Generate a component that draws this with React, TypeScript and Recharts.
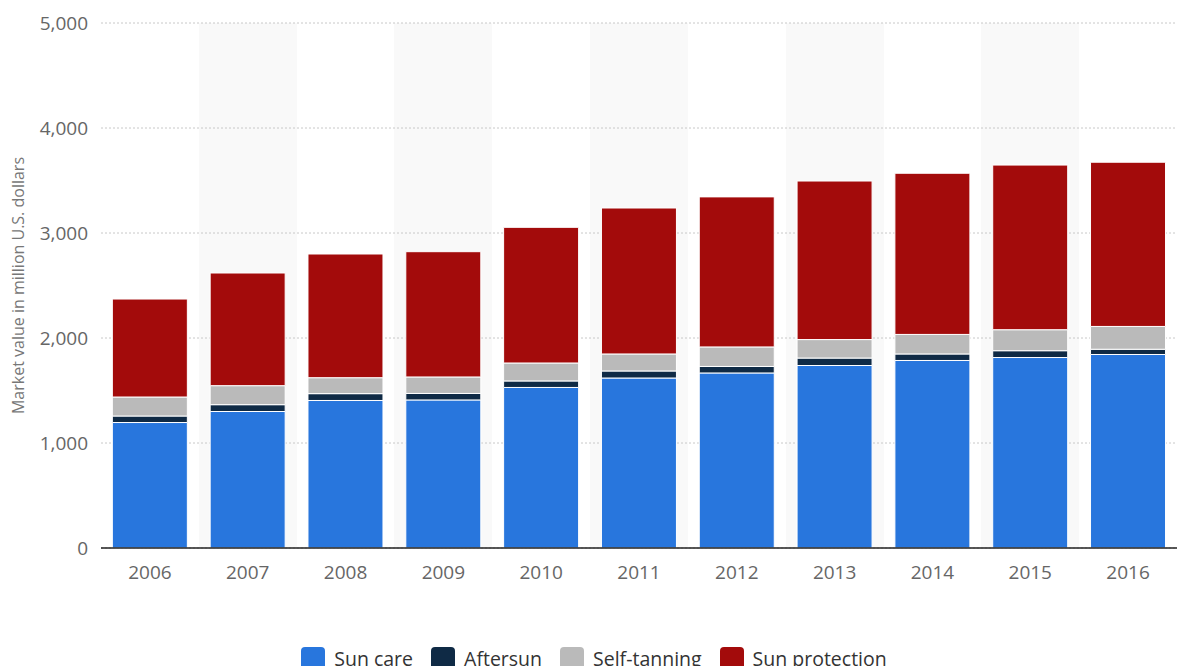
import {
  BarChart,
  Bar,
  XAxis,
  YAxis,
  CartesianGrid,
  Legend,
} from "recharts";

const years = [
  "2006", "2007", "2008", "2009", "2010", "2011",
  "2012", "2013", "2014", "2015", "2016",
];
const sunCare = [1195, 1300, 1405, 1410, 1529, 1619, 1667, 1738, 1786, 1814, 1843];
const aftersun = [62, 65, 65, 62, 62, 67, 62, 71, 62, 65, 50];
const selfTanning = [181, 181, 152, 157, 171, 162, 186, 176, 186, 200, 217];
const sunProtection = [933, 1073, 1178, 1193, 1292, 1390, 1429, 1510, 1535, 1568, 1564];
const yTicks = [0, 1000, 2000, 3000, 4000, 5000];

const series = [
  { key: "sunCare", name: "Sun care", color: "#2876dd", values: sunCare },
  { key: "aftersun", name: "Aftersun", color: "#0f2a45", values: aftersun },
  { key: "selfTanning", name: "Self-tanning", color: "#bababa", values: selfTanning },
  { key: "sunProtection", name: "Sun protection", color: "#a30b0b", values: sunProtection },
];

const data = years.map((year, i) => {
  const row: Record<string, string | number> = { year };
  series.forEach((s) => {
    row[s.key] = s.values[i];
  });
  return row;
});

const font = "'Open Sans', sans-serif";
const tickStyle = { fill: "#666", fontSize: 19, fontFamily: font };

const fmt = (v: number) => v.toLocaleString("en-US");

const renderLegend = () => (
  <div
    style={{
      display: "flex",
      justifyContent: "center",
      fontFamily: font,
      fontSize: 19.5,
      color: "#333",
      paddingLeft: 29,
    }}
  >
    {series.map((s) => (
      <div
        key={s.key}
        style={{ display: "flex", alignItems: "center", marginRight: 18 }}
      >
        <span
          style={{
            width: 24,
            height: 23,
            borderRadius: 4,
            background: s.color,
            marginRight: 9,
            display: "inline-block",
          }}
        />
        <span>{s.name}</span>
      </div>
    ))}
  </div>
);

export default function App() {
  return (
    <div style={{ position: "absolute", left: 0, top: 0 }}>
      <BarChart
        width={1177}
        height={666}
        data={data}
        margin={{ top: 23, right: 0, bottom: 88, left: 0 }}
        barCategoryGap="11.6%"
      >
        <CartesianGrid
          horizontal={false}
          vertical
          stroke="none"
          verticalFill={["#ffffff", "#f9f9f9"]}
          verticalCoordinatesGenerator={({ offset }: any) =>
            years.map((_, i) => offset.left + (i * offset.width) / years.length)
          }
        />
        <CartesianGrid
          vertical={false}
          stroke="#c8c8c8"
          strokeDasharray="2 2"
        />
        <XAxis
          dataKey="year"
          tick={tickStyle}
          tickLine={false}
          tickSize={0}
          tickMargin={18}
          axisLine={{ stroke: "#222", strokeWidth: 1.5 }}
          height={30}
        />
        <YAxis
          domain={[0, 5000]}
          ticks={yTicks}
          tickFormatter={fmt}
          tick={tickStyle}
          tickLine={false}
          tickSize={0}
          tickMargin={13}
          axisLine={false}
          width={101}
          label={{
            value: "Market value in million U.S. dollars",
            angle: -90,
            position: "insideLeft",
            offset: 18,
            style: {
              textAnchor: "middle",
              fill: "#777",
              fontSize: 16,
              fontFamily: font,
            },
          }}
        />
        <Legend
          verticalAlign="middle"
          align="center"
          content={renderLegend}
          wrapperStyle={{ top: 645, left: 0, width: 1177 }}
        />
        {series.map((s) => (
          <Bar
            key={s.key}
            dataKey={s.key}
            name={s.name}
            stackId="a"
            fill={s.color}
            stroke="#fff"
            strokeWidth={1}
            isAnimationActive={false}
          />
        ))}
      </BarChart>
    </div>
  );
}
